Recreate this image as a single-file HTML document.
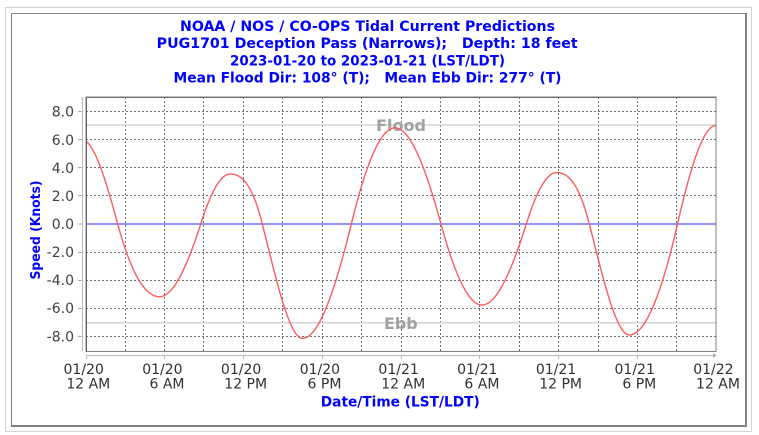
<!DOCTYPE html>
<html><head><meta charset="utf-8">
<style>
html,body{margin:0;padding:0;background:#fff;width:759px;height:435px;overflow:hidden}
svg{display:block}
</style></head>
<body>
<svg id="s" width="759" height="435" viewBox="0 0 759 435" xmlns="http://www.w3.org/2000/svg" font-family="'DejaVu Sans','Liberation Sans',sans-serif">
<rect x="0" y="0" width="759" height="435" fill="#fff"/>
<!-- outer frames -->
<rect x="5.5" y="7.5" width="746" height="424" fill="none" stroke="#d4d4d4" stroke-width="1"/>
<line x1="11.5" y1="13" x2="11.5" y2="427" stroke="#808080" stroke-width="1"/>
<line x1="11" y1="13.5" x2="747" y2="13.5" stroke="#808080" stroke-width="1"/>
<rect x="745" y="13" width="2" height="414" fill="#808080"/>
<rect x="11" y="425" width="736" height="2" fill="#808080"/>

<!-- title -->
<g fill="#0000ff" font-weight="bold" font-size="14" text-anchor="middle">
<text x="367.5" y="31" textLength="375" lengthAdjust="spacingAndGlyphs">NOAA / NOS / CO-OPS Tidal Current Predictions</text>
<text x="367.2" y="48.2" textLength="421" lengthAdjust="spacingAndGlyphs">PUG1701 Deception Pass (Narrows);&#160;&#160;&#160;Depth: 18 feet</text>
<text x="367.5" y="65.4" textLength="275" lengthAdjust="spacingAndGlyphs">2023-01-20 to 2023-01-21 (LST/LDT)</text>
<text x="367.5" y="82.6" textLength="388" lengthAdjust="spacingAndGlyphs">Mean Flood Dir: 108° (T);&#160;&#160;&#160;Mean Ebb Dir: 277° (T)</text>
</g>

<!-- grid -->
<g stroke="#707070" stroke-width="1" stroke-dasharray="2,2" fill="none">
<line x1="125.5" y1="97" x2="125.5" y2="351"/>
<line x1="164.5" y1="97" x2="164.5" y2="351"/>
<line x1="203.5" y1="97" x2="203.5" y2="351"/>
<line x1="243.5" y1="97" x2="243.5" y2="351"/>
<line x1="282.5" y1="97" x2="282.5" y2="351"/>
<line x1="322.5" y1="97" x2="322.5" y2="351"/>
<line x1="361.5" y1="97" x2="361.5" y2="351"/>
<line x1="401.5" y1="97" x2="401.5" y2="351"/>
<line x1="440.5" y1="97" x2="440.5" y2="351"/>
<line x1="479.5" y1="97" x2="479.5" y2="351"/>
<line x1="519.5" y1="97" x2="519.5" y2="351"/>
<line x1="558.5" y1="97" x2="558.5" y2="351"/>
<line x1="598.5" y1="97" x2="598.5" y2="351"/>
<line x1="637.5" y1="97" x2="637.5" y2="351"/>
<line x1="676.5" y1="97" x2="676.5" y2="351"/>
<line x1="86" y1="111.5" x2="716" y2="111.5"/>
<line x1="86" y1="139.5" x2="716" y2="139.5"/>
<line x1="86" y1="167.5" x2="716" y2="167.5"/>
<line x1="86" y1="195.5" x2="716" y2="195.5"/>
<line x1="86" y1="252.5" x2="716" y2="252.5"/>
<line x1="86" y1="280.5" x2="716" y2="280.5"/>
<line x1="86" y1="308.5" x2="716" y2="308.5"/>
<line x1="86" y1="336.5" x2="716" y2="336.5"/>
</g>

<!-- flood / ebb reference lines -->
<line x1="86" y1="125" x2="716" y2="125" stroke="#d2d2d2" stroke-width="1.5"/>
<line x1="86" y1="322.7" x2="716" y2="322.7" stroke="#d2d2d2" stroke-width="1.5"/>
<g fill="#a0a0a0" font-weight="bold" font-size="16" text-anchor="middle">
<text x="401" y="131" textLength="50" lengthAdjust="spacingAndGlyphs">Flood</text>
<text x="400.8" y="329" textLength="33.5" lengthAdjust="spacingAndGlyphs">Ebb</text>
</g>

<!-- zero line -->
<line x1="86" y1="224" x2="716" y2="224" stroke="#7070ff" stroke-width="1.4"/>

<!-- curve -->
<path id="curve" d="" fill="none" stroke="#ff5c5c" stroke-width="1.4" stroke-linejoin="round"/>

<!-- plot border -->
<rect x="86" y="97" width="630" height="254.5" fill="none" stroke="#808080" stroke-width="1"/>
<line x1="86.5" y1="97" x2="86.5" y2="351.5" stroke="#606060" stroke-width="1"/>
<line x1="86" y1="97.5" x2="716" y2="97.5" stroke="#707070" stroke-width="1"/>

<!-- y axis -->
<line x1="82.5" y1="97" x2="82.5" y2="351" stroke="#c0c0c0" stroke-width="1.2"/>
<g stroke="#b0b0b0" stroke-width="1">
<line x1="78" y1="111.5" x2="82.5" y2="111.5"/>
<line x1="78" y1="139.5" x2="82.5" y2="139.5"/>
<line x1="78" y1="167.5" x2="82.5" y2="167.5"/>
<line x1="78" y1="195.5" x2="82.5" y2="195.5"/>
<line x1="78" y1="224" x2="82.5" y2="224"/>
<line x1="78" y1="252.5" x2="82.5" y2="252.5"/>
<line x1="78" y1="280.5" x2="82.5" y2="280.5"/>
<line x1="78" y1="308.5" x2="82.5" y2="308.5"/>
<line x1="78" y1="336.5" x2="82.5" y2="336.5"/>
</g>
<g fill="#404040" font-size="14" text-anchor="end">
<text x="74" y="116.7">8.0</text>
<text x="74" y="144.8">6.0</text>
<text x="74" y="172.8">4.0</text>
<text x="74" y="200.9">2.0</text>
<text x="74" y="229">0.0</text>
<text x="74" y="257.1">-2.0</text>
<text x="74" y="285.2">-4.0</text>
<text x="74" y="313.2">-6.0</text>
<text x="74" y="341.3">-8.0</text>
</g>
<text transform="translate(40,230) rotate(-90)" fill="#0000ff" font-weight="bold" font-size="13" text-anchor="middle" textLength="99" lengthAdjust="spacingAndGlyphs">Speed (Knots)</text>

<!-- x axis -->
<line x1="86" y1="355.5" x2="714" y2="355.5" stroke="#c0c0c0" stroke-width="1.2"/>
<path d="M713,353 L717,355.5 L713,358 Z" fill="#b0b0b0"/>
<g stroke="#b8b8b8" stroke-width="1">
<line x1="86.5" y1="355.5" x2="86.5" y2="359"/>
<line x1="164.5" y1="355.5" x2="164.5" y2="359"/>
<line x1="243.5" y1="355.5" x2="243.5" y2="359"/>
<line x1="322.5" y1="355.5" x2="322.5" y2="359"/>
<line x1="401.5" y1="355.5" x2="401.5" y2="359"/>
<line x1="479.5" y1="355.5" x2="479.5" y2="359"/>
<line x1="558.5" y1="355.5" x2="558.5" y2="359"/>
<line x1="637.5" y1="355.5" x2="637.5" y2="359"/>
</g>
<g fill="#303030" font-size="14" text-anchor="middle">
<text x="83.7" y="374">01/20</text><text x="88.3" y="388.3">12 AM</text>
<text x="162.4" y="374">01/20</text><text x="167" y="388.3">6 AM</text>
<text x="241.1" y="374">01/20</text><text x="245.7" y="388.3">12 PM</text>
<text x="319.9" y="374">01/20</text><text x="324.5" y="388.3">6 PM</text>
<text x="398.6" y="374">01/21</text><text x="403.2" y="388.3">12 AM</text>
<text x="477.3" y="374">01/21</text><text x="481.9" y="388.3">6 AM</text>
<text x="556" y="374">01/21</text><text x="560.6" y="388.3">12 PM</text>
<text x="634.7" y="374">01/21</text><text x="639.3" y="388.3">6 PM</text>
<text x="713.4" y="374">01/22</text><text x="718" y="388.3">12 AM</text>
</g>
<text x="400.3" y="406.5" fill="#0000ff" font-weight="bold" font-size="14" text-anchor="middle" textLength="159" lengthAdjust="spacingAndGlyphs">Date/Time (LST/LDT)</text>
</svg>
<script>
(function(){
var pts=[[82,6.0],[117.7,0],[159.5,-5.18],[200.7,0],[230,3.56],[262.3,0],[302.5,-8.14],[351.3,0],[395,6.85],[441,0],[482,-5.77],[526.3,0],[556.5,3.66],[589.3,0],[629.3,-7.9],[677.5,0],[716,7.02]];
var mb=1.8;
/* shared slope magnitude (value per px) at each zero crossing */
var S={};
for(var i=0;i<pts.length;i++){
  if(pts[i][1]===0){
    var a=pts[i-1],b=pts[i+1];
    var s1=Math.abs(a[1])*mb/(pts[i][0]-a[0]);
    var s2=Math.abs(b[1])*mb/(b[0]-pts[i][0]);
    S[i]=(s1+s2)/2;
  }
}
function h(s,m){return m*(s-2*s*s+s*s*s)+(3*s*s-2*s*s*s);}
var d='';
for(var x=86;x<=716.01;x+=0.5){
  var k=0;while(k<pts.length-2&&x>pts[k+1][0])k++;
  var a=pts[k],b=pts[k+1],s,A,zi;
  if(a[1]===0){s=(x-a[0])/(b[0]-a[0]);A=b[1];zi=k;}
  else{s=(b[0]-x)/(b[0]-a[0]);A=a[1];zi=k+1;}
  if(s<0)s=0;if(s>1)s=1;
  var L=Math.abs(b[0]-a[0]);
  var m=S[zi]*L/Math.abs(A); if(m>2.8)m=2.8;
  var v=A*h(s,m);
  var y=224-v*14.04;
  d+=(d?'L':'M')+x.toFixed(1)+','+y.toFixed(2);
}
document.getElementById('curve').setAttribute('d',d);
})();
</script>
</body></html>
